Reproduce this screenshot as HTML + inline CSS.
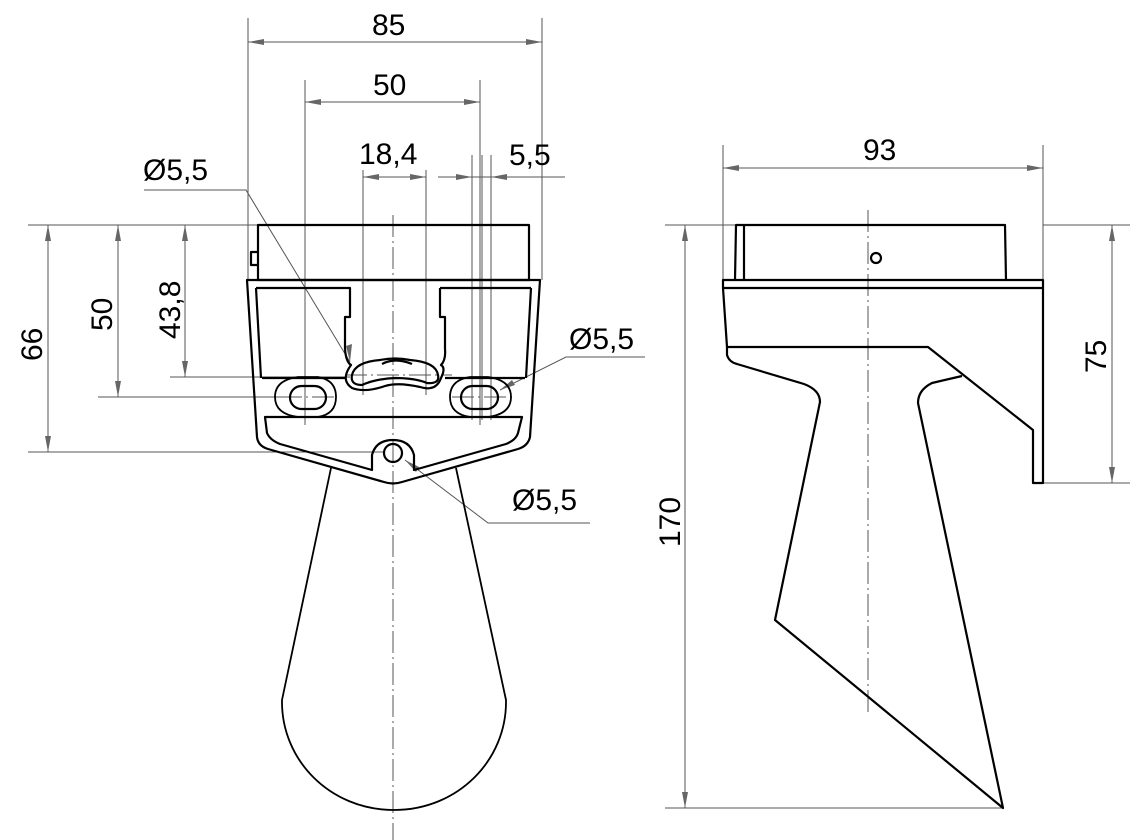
<!DOCTYPE html>
<html><head><style>html,body{margin:0;padding:0;background:#fff}svg{display:block}</style></head><body>
<svg width="1140" height="840" viewBox="0 0 1140 840" xmlns="http://www.w3.org/2000/svg">
<g stroke="#555" stroke-width="1" fill="none">
<line x1="248" y1="18" x2="248" y2="280"/>
<line x1="542" y1="18" x2="542" y2="280"/>
<line x1="305" y1="80" x2="305" y2="425"/>
<line x1="480" y1="80" x2="480" y2="425"/>
<line x1="363" y1="170" x2="363" y2="395"/>
<line x1="426" y1="170" x2="426" y2="395"/>
<line x1="472" y1="155" x2="472" y2="420"/>
<line x1="482" y1="155" x2="482" y2="420"/>
<line x1="491" y1="155" x2="491" y2="420"/>
<line x1="28" y1="225" x2="258" y2="225"/>
<line x1="170" y1="377" x2="350" y2="377"/>
<line x1="98" y1="397" x2="290" y2="397"/>
<line x1="28" y1="452" x2="385" y2="452"/>
<line x1="248" y1="42" x2="542" y2="42"/>
<line x1="305" y1="102" x2="480" y2="102"/>
<line x1="363" y1="177" x2="426" y2="177"/>
<line x1="438" y1="177" x2="565" y2="177"/>
<line x1="48" y1="225" x2="48" y2="452"/>
<line x1="118" y1="225" x2="118" y2="397"/>
<line x1="185" y1="225" x2="185" y2="377"/>
<polyline points="144,190 246,190 350,362"/>
<polyline points="645,357 566,357 500,390"/>
<polyline points="590,523 488,523 405,460"/>
<line x1="723" y1="145" x2="723" y2="285"/>
<line x1="1043" y1="145" x2="1043" y2="285"/>
<line x1="723" y1="168" x2="1043" y2="168"/>
<line x1="665" y1="225" x2="735" y2="225"/>
<line x1="665" y1="808" x2="1003" y2="808"/>
<line x1="685" y1="225" x2="685" y2="808"/>
<line x1="1043" y1="225" x2="1130" y2="225"/>
<line x1="1043" y1="483" x2="1130" y2="483"/>
<line x1="1112" y1="225" x2="1112" y2="483"/>
</g>
<g fill="#666">
<path d="M248,42 l16,-3 v6z"/><path d="M542,42 l-16,-3 v6z"/>
<path d="M305,102 l16,-3 v6z"/><path d="M480,102 l-16,-3 v6z"/>
<path d="M363,177 l16,-3 v6z"/><path d="M426,177 l-16,-3 v6z"/>
<path d="M472,177 l-16,-3 v6z"/><path d="M491,177 l16,-3 v6z"/>
<path d="M48,225 l-3,16 h6z"/><path d="M48,452 l-3,-16 h6z"/>
<path d="M118,225 l-3,16 h6z"/><path d="M118,397 l-3,-16 h6z"/>
<path d="M185,225 l-3,16 h6z"/><path d="M185,377 l-3,-16 h6z"/>
<path d="M723,168 l16,-3 v6z"/><path d="M1043,168 l-16,-3 v6z"/>
<path d="M685,225 l-3,16 h6z"/><path d="M685,808 l-3,-16 h6z"/>
<path d="M1112,225 l-3,16 h6z"/><path d="M1112,483 l-3,-16 h6z"/>
<path d="M350,362 l-4,-16 l6,-2z"/>
<path d="M500,390 l12,-10 l3,5z"/>
<path d="M405,460 l14,7 l-3,5z"/>
</g>
<g stroke="#555" stroke-width="1" stroke-dasharray="22,4,2,4" fill="none">
<line x1="393" y1="215" x2="393" y2="840"/>
<line x1="868" y1="210" x2="868" y2="715"/>
<line x1="280" y1="397" x2="335" y2="397"/>
<line x1="452" y1="397" x2="515" y2="397"/>
<line x1="345" y1="375" x2="452" y2="375"/>
</g>
<g stroke="#000" stroke-width="2.2" fill="none" stroke-linejoin="round">
<rect x="258" y="225" width="271" height="55"/>
<path d="M257,252 h-6 v13 h6"/>
<path d="M247,280 H540 L530,437 Q528,446 518,449 L402,482 Q393,485 384,482 L268,449 Q258,446 257,437 Z"/>
<path d="M256,288 H350 V317 H345 V349 M440,288 H531 M261,378 L256,288 M531,288 L526,378 M440,288 V317 H445 V349"/>
<path d="M262,378 H345 M445,378 H525"/>
<path d="M265,417 L267,433 Q270,440 280,444 L372,470 V455 Q376,440 393,440 Q410,440 414,455 V470 L506,444 Q516,440 518,433 L522,417 Z"/>
<path d="M345,349 Q346,362 351,365 Q340,380 352,388 Q365,393 385,386 Q398,382 420,387 Q436,392 441,378 Q446,368 441,365 Q446,360 445,349"/>
<path d="M352,375 Q355,362 380,360 Q395,357 410,360 Q436,362 438,375 Q440,384 427,383 Q415,378 395,378 Q375,379 362,385 Q350,385 352,375 Z"/>
<path d="M382,364 Q395,357 412,364"/>
<path d="M275,397 Q275,380 298,377 H318 Q336,380 336,397 Q336,414 318,417 H298 Q275,414 275,397 Z" stroke-width="1.8"/>
<rect x="290" y="386" width="36" height="23" rx="11.5"/>
<path d="M450,397 Q450,380 470,377 H488 Q511,380 511,397 Q511,414 488,417 H470 Q450,414 450,397 Z" stroke-width="1.8"/>
<rect x="461" y="386" width="37" height="23" rx="11.5"/>
<circle cx="393" cy="453" r="9"/>
<path d="M331,468 L282,700 C281,760 330,810 394,810 C458,810 507,760 506,700 L456,468" stroke-width="1.8"/>
</g>
<g stroke="#000" stroke-width="2.2" fill="none" stroke-linejoin="round">
<path d="M735,280 L736,225 H1005 L1006,280"/>
<line x1="744" y1="225" x2="744" y2="280"/>
<circle cx="876" cy="258" r="5"/>
<path d="M723,280 H1043 V288 H723 Z"/>
<path d="M1043,288 V483 H1033 V430 L928,347 H727 L723,288"/>
<path d="M727,347 L727,355 Q729,362 737,364 L804,384 Q820,390 820,402 L775,620 L1003,808 L918,403 Q918,390 932,383 L962,376"/>
</g>
<g font-family="Liberation Sans, sans-serif" font-size="30" fill="#000">
<text x="372" y="35">85</text>
<text x="373" y="95">50</text>
<text x="359" y="164">18,4</text>
<text x="509" y="165">5,5</text>
<text x="143" y="180">Ø5,5</text>
<text x="569" y="349">Ø5,5</text>
<text x="512" y="510">Ø5,5</text>
<text x="863" y="160">93</text>
<text transform="translate(42,361) rotate(-90)">66</text>
<text transform="translate(112,331) rotate(-90)">50</text>
<text transform="translate(180,339) rotate(-90)">43,8</text>
<text transform="translate(680,547) rotate(-90)">170</text>
<text transform="translate(1106,373) rotate(-90)">75</text>
</g>
</svg>
</body></html>
